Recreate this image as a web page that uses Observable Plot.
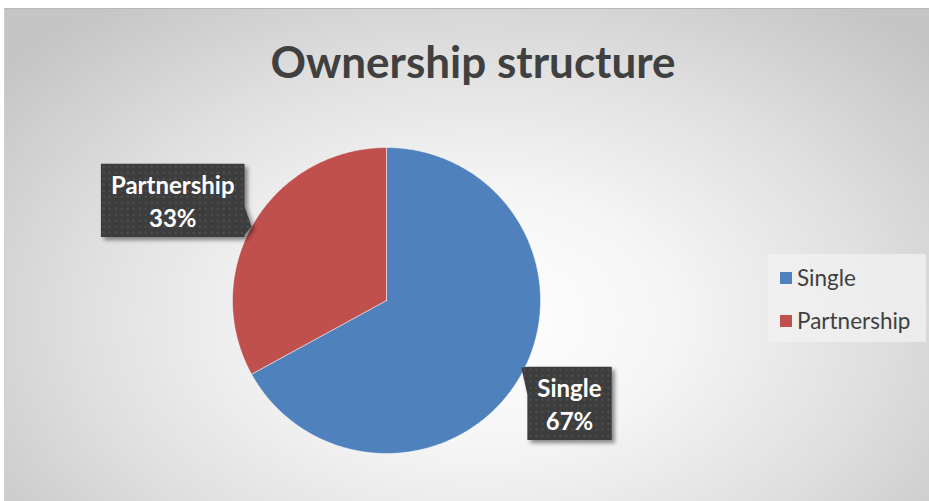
<!DOCTYPE html>
<html>
<head>
<meta charset="utf-8">
<script src="https://cdn.jsdelivr.net/npm/d3@7"></script>
<script src="https://cdn.jsdelivr.net/npm/@observablehq/plot@0.6"></script>
<style>
  html, body { margin: 0; padding: 0; background: #fff; width: 929px; height: 501px; overflow: hidden; }
  #frame {
    position: absolute; left: 4px; top: 8px; width: 940px; height: 500px;
    border-top: 1px solid #b8b8b8; border-left: 1px solid #d0d0d0;
    background: radial-gradient(ellipse 64% 80% at 50.5% 62%, #ffffff 0%, #f5f5f5 32%, #e0e0e0 65%, #c5c5c5 100%);
  }
  #chart { position: absolute; left: 0; top: 0; }
  #title {
    position: absolute; left: 0; width: 946px; top: 39px; text-align: center;
    font-family: Lato, sans-serif; font-weight: 700; font-size: 44px; line-height: 44px; color: #404040;
  }
  #legend {
    position: absolute; left: 768px; top: 254px; width: 158px; height: 88px;
    background: rgba(242,242,242,0.75);
    font-family: Lato, sans-serif; font-size: 22.5px; color: #404040;
  }
  .item { position: absolute; left: 12px; height: 24px; line-height: 24px; display: flex; align-items: center; }
  .sw { width: 12px; height: 12px; margin-right: 5px; }
</style>
</head>
<body>
<div id="frame"></div>
<div id="chart"></div>
<div id="title"></div>
<div id="legend"></div>
<script>
const titleText = "Ownership structure";
const categories = ["Single", "Partnership"];
const shares = [67, 33];
const colors = ["#4F81BD", "#C0504D"];

document.getElementById("title").textContent = titleText;

// legend
const legend = document.getElementById("legend");
categories.forEach((c, i) => {
  const it = document.createElement("div");
  it.className = "item";
  it.style.top = (12 + i * 43) + "px";
  it.innerHTML = `<div class="sw" style="background:${colors[i]}"></div><span>${c}</span>`;
  legend.appendChild(it);
});

// pie geometry from data
const data = categories.map((c, i) => ({category: c, share: shares[i]}));
const arcs = d3.pie().sort(null).value(d => d.share)(data);
const pts = [];
arcs.forEach(a => {
  const cat = a.data.category;
  pts.push({category: cat, x: 0, y: 0});
  const n = Math.max(2, Math.ceil((a.endAngle - a.startAngle) / (Math.PI / 360)));
  for (let k = 0; k <= n; k++) {
    const t = a.startAngle + (a.endAngle - a.startAngle) * k / n;
    pts.push({category: cat, x: Math.sin(t), y: -Math.cos(t)});
  }
  pts.push({category: cat, x: 0, y: 0});
});

// label anchor positions (direction of slice mid-angle, pushed outward)
const labelShift = {Single: [-0.06, -0.07], Partnership: [-0.14, 0.08]};
const labels = arcs.map(a => {
  const m = (a.startAngle + a.endAngle) / 2;
  const s = labelShift[a.data.category];
  return {
    category: a.data.category,
    text: `${a.data.category}\n${a.data.share}%`,
    x: Math.sin(m) * 1.45 + s[0],
    y: -Math.cos(m) * 1.45 + s[1]
  };
});

const plot = Plot.plot({
  width: 929, height: 501, margin: 0,
  style: {background: "transparent", overflow: "visible"},
  x: {domain: [-1, 1], range: [232, 540], axis: null},
  y: {domain: [-1, 1], range: [147, 453], axis: null},
  color: {domain: categories, range: colors},
  marks: [
    Plot.line(pts, {x: "x", y: "y", z: "category", fill: "category", stroke: "#ffffff", strokeWidth: 0.8, strokeOpacity: 0.6, curve: "linear-closed"}),
    Plot.text(labels, {x: "x", y: "y", text: "text", fill: "#ffffff", fontSize: 24, fontWeight: 700, fontFamily: "Lato, sans-serif", lineHeight: 1.38})
  ]
});
document.getElementById("chart").appendChild(plot);

// callout boxes behind the label texts
const svg = d3.select(plot);
const defs = svg.insert("defs", ":first-child");
const pat = defs.append("pattern").attr("id", "dots").attr("width", 6).attr("height", 6).attr("patternUnits", "userSpaceOnUse");
pat.append("rect").attr("width", 6).attr("height", 6).attr("fill", "#3d3d3d");
pat.append("circle").attr("cx", 3).attr("cy", 3).attr("r", 0.9).attr("fill", "#575757");
const f = defs.append("filter").attr("id", "sh").attr("x", "-20%").attr("y", "-20%").attr("width", "150%").attr("height", "150%");
f.append("feDropShadow").attr("dx", 3).attr("dy", 3).attr("stdDeviation", 2).attr("flood-color", "#000").attr("flood-opacity", 0.45);

const textNode = plot.querySelector('g[aria-label="text"]');
const boxG = d3.create("svg:g");
if (textNode.getAttribute("transform")) boxG.attr("transform", textNode.getAttribute("transform"));
textNode.parentNode.insertBefore(boxG.node(), textNode);
Array.from(textNode.querySelectorAll("text")).forEach((el, i) => {
  const bb = el.getBBox();
  const lab = labels[i];
  const x0 = bb.x - 10, y0 = bb.y - 6, w = bb.width + 20, h = bb.height + 11;
  let p;
  if (lab.category === "Partnership") {
    p = `M${x0},${y0}H${x0 + w}V${y0 + h * 0.58}L${x0 + w + 7},${y0 + h * 0.86}L${x0 + w},${y0 + h * 0.97}V${y0 + h}H${x0}Z`;
  } else {
    p = `M${x0},${y0}H${x0 + w}V${y0 + h}H${x0}V${y0 + h * 0.38}L${x0 - 6},${y0 + 1}Z`;
  }
  const path = boxG.append("path").attr("d", p).attr("fill", "url(#dots)").attr("filter", "url(#sh)");
  const tr = el.getAttribute("transform");
  if (tr) path.attr("transform", tr);
  else path.attr("transform", `translate(${el.getAttribute("x") || 0},${el.getAttribute("y") || 0})`);
});
</script>
</body>
</html>
